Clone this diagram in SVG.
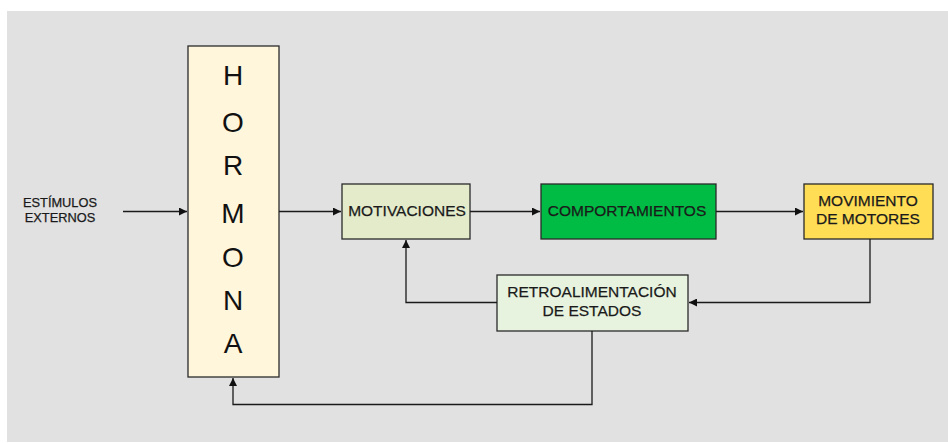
<svg xmlns="http://www.w3.org/2000/svg" width="948" height="443" viewBox="0 0 948 443">
  <style>
    .box { stroke: #2a2a2a; stroke-width: 1.3; }
    .lbl { font-family: "Liberation Sans", Arial, sans-serif; font-size: 15.5px; fill: #1a1a1a; stroke: #1a1a1a; stroke-width: 0.25; text-anchor: middle; }
    .small { font-family: "Liberation Sans", Arial, sans-serif; font-size: 12.8px; fill: #1a1a1a; stroke: #1a1a1a; stroke-width: 0.25; text-anchor: middle; }
    .big { font-family: "Liberation Sans", Arial, sans-serif; font-size: 28px; fill: #111; text-anchor: middle; }
    .wire { fill: none; stroke: #1a1a1a; stroke-width: 1.3; }
  </style>
  <defs>
    <marker id="head" viewBox="0 0 10 10" refX="10" refY="5" markerWidth="8" markerHeight="8" markerUnits="userSpaceOnUse" orient="auto">
      <path d="M0,0 L10,5 L0,10 z" fill="#111"/>
    </marker>
  </defs>

  <rect x="0" y="0" width="948" height="443" fill="#ffffff"/>
  <rect x="7" y="11" width="941" height="431" fill="#e1e1e1"/>

  <g id="estimulos">
    <text class="small" x="60" y="207">ESTÍMULOS</text>
    <text class="small" x="60" y="222">EXTERNOS</text>
  </g>

  <g id="hormona">
    <rect class="box" x="188" y="46" width="91" height="331" fill="#fff6dc"/>
    <text class="big" x="233" y="85">H</text>
    <text class="big" x="233" y="132">O</text>
    <text class="big" x="233" y="175">R</text>
    <text class="big" x="233" y="223">M</text>
    <text class="big" x="233" y="267">O</text>
    <text class="big" x="233" y="310">N</text>
    <text class="big" x="233" y="353">A</text>
  </g>

  <g id="motivaciones">
    <rect class="box" x="342" y="184" width="128" height="55" fill="#e3ebcb"/>
    <text class="lbl" x="407" y="216">MOTIVACIONES</text>
  </g>

  <g id="comportamientos">
    <rect class="box" x="541" y="184" width="175" height="55" fill="#00bb44"/>
    <text class="lbl" x="627" y="216">COMPORTAMIENTOS</text>
  </g>

  <g id="movimiento">
    <rect class="box" x="804" y="184" width="129" height="55" fill="#ffdd55"/>
    <text class="lbl" x="868" y="206">MOVIMIENTO</text>
    <text class="lbl" x="868" y="224">DE MOTORES</text>
  </g>

  <g id="retroalimentacion">
    <rect class="box" x="497" y="275" width="191" height="56" fill="#e8f3df"/>
    <text class="lbl" x="592" y="297">RETROALIMENTACIÓN</text>
    <text class="lbl" x="592" y="316">DE ESTADOS</text>
  </g>

  <g id="connectors">
    <path class="wire" d="M123,211.5 H187" marker-end="url(#head)"/>
    <path class="wire" d="M279,211.5 H341" marker-end="url(#head)"/>
    <path class="wire" d="M470,211.5 H540" marker-end="url(#head)"/>
    <path class="wire" d="M716,211.5 H803" marker-end="url(#head)"/>
    <path class="wire" d="M870,239 V302.5 H689" marker-end="url(#head)"/>
    <path class="wire" d="M497,302.5 H406 V240" marker-end="url(#head)"/>
    <path class="wire" d="M592,331 V404.5 H233 V378" marker-end="url(#head)"/>
  </g>
</svg>
